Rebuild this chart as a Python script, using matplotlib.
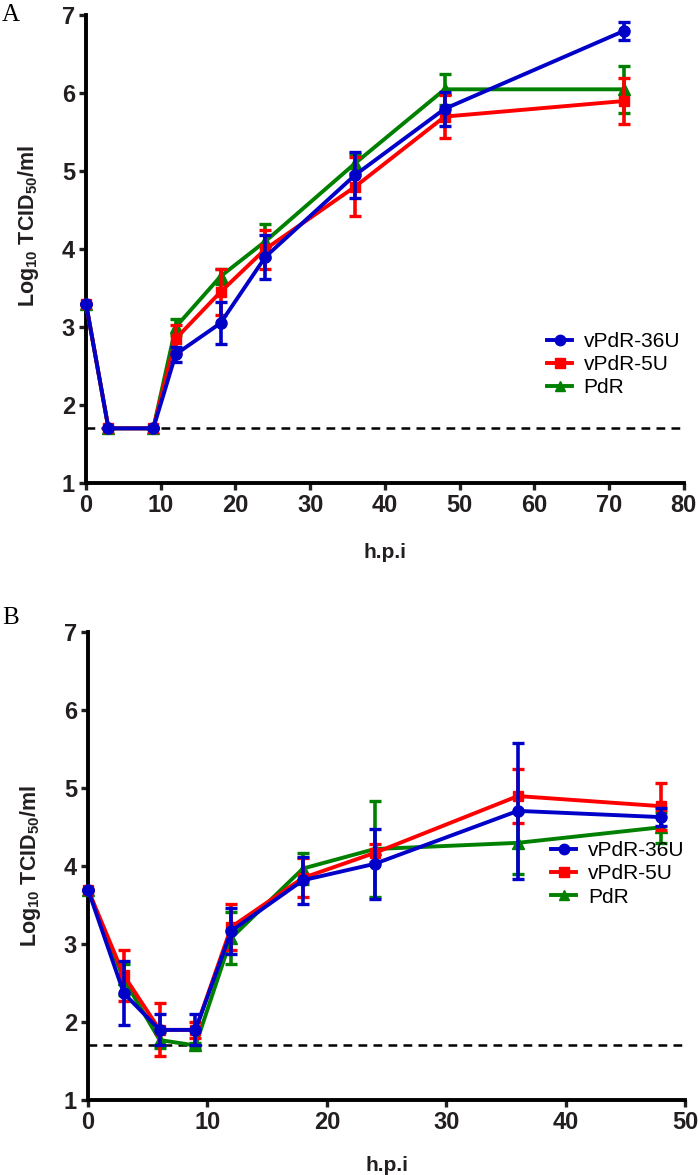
import matplotlib
matplotlib.use("Agg")
import matplotlib.pyplot as plt
from matplotlib.lines import Line2D

plt.rcParams['font.family'] = ['Liberation Sans', 'DejaVu Sans']
plt.rcParams['mathtext.fontset'] = 'custom'
plt.rcParams['mathtext.rm'] = 'Liberation Sans:bold'
plt.rcParams['mathtext.it'] = 'Liberation Sans:bold'
plt.rcParams['mathtext.bf'] = 'Liberation Sans:bold'

# ---------------- data ----------------
series_names = ["vPdR-36U", "vPdR-5U", "PdR"]

a_hpi = [0, 3, 9, 12, 18, 24, 36, 48, 72]
a_36u = [3.3, 1.7, 1.7, 2.65, 3.05, 3.9, 4.95, 5.8, 6.8]
a_36u_err = [0, 0, 0, 0.1, 0.27, 0.28, 0.29, 0.22, 0.12]
a_5u = [3.3, 1.7, 1.7, 2.85, 3.45, 4.0, 4.8, 5.7, 5.9]
a_5u_err = [0, 0, 0, 0.18, 0.3, 0.25, 0.38, 0.28, 0.29]
a_pdr = [3.3, 1.7, 1.7, 3.0, 3.65, 4.1, 5.1, 6.05, 6.05]
a_pdr_err = [0, 0, 0, 0.1, 0.1, 0.22, 0.12, 0.2, 0.3]

b_hpi = [0, 3, 6, 9, 12, 18, 24, 36, 48]
b_36u = [3.7, 2.37, 1.9, 1.9, 3.17, 3.82, 4.03, 4.71, 4.63]
b_36u_err = [0, 0.41, 0.2, 0.2, 0.3, 0.3, 0.45, 0.87, 0.12]
b_5u = [3.7, 2.6, 1.9, 1.9, 3.22, 3.85, 4.17, 4.9, 4.77]
b_5u_err = [0, 0.33, 0.34, 0.1, 0.3, 0.25, 0.12, 0.35, 0.3]
b_pdr = [3.7, 2.55, 1.77, 1.7, 3.08, 3.97, 4.22, 4.3, 4.5]
b_pdr_err = [0, 0.2, 0.1, 0.03, 0.33, 0.2, 0.62, 0.4, 0.2]

detection_limit = 1.7
y_ticks = [1, 2, 3, 4, 5, 6, 7]
a_xticks = [0, 10, 20, 30, 40, 50, 60, 70, 80]
b_xticks = [0, 10, 20, 30, 40, 50]

colors = ["#0000c8", "#ff0000", "#008000"]
markers = ["o", "s", "^"]
dark = "#231f20"

fig = plt.figure(figsize=(7.0, 11.75), dpi=100)


def panel(rect, x, ys, errs, xticks, xmax, letter, leg_anchor, ylab_y, letter_dy, xlpad):
    ax = fig.add_axes(rect)
    for i in [2, 1, 0]:
        ax.errorbar(x, ys[i], yerr=errs[i], color=colors[i], marker=markers[i],
                    markersize=8 if i != 1 else 7.5, lw=2.8, elinewidth=2.6,
                    capsize=4, capthick=2.4, clip_on=False, zorder=3 + (2 - i))
    ax.axhline(detection_limit, color="black", ls=(0, (3.5, 2.5)), lw=1.8, zorder=2)
    ax.set_xlim(0, xmax)
    ax.set_ylim(1, 7)
    ax.set_xticks(xticks)
    ax.set_yticks(y_ticks)
    for s in ["top", "right"]:
        ax.spines[s].set_visible(False)
    for s in ["left", "bottom"]:
        ax.spines[s].set_linewidth(2.8)
    ax.tick_params(width=2.4, length=5, labelsize=17, pad=3, colors=dark)
    for lab in ax.get_xticklabels() + ax.get_yticklabels():
        lab.set_fontweight("bold")
    ax.set_xlabel("h.p.i", fontsize=15, fontweight="bold", labelpad=xlpad, color=dark)
    ax.set_ylabel("Log$_{10}$ TCID$_{50}$/ml", fontsize=15.5, fontweight="bold",
                  color=dark)
    ax.yaxis.set_label_coords(-0.075, ylab_y)
    handles = [Line2D([], [], color=colors[i], marker=markers[i], lw=2.8, markersize=7.5)
               for i in range(3)]
    ax.legend(handles, series_names, loc="upper left", bbox_to_anchor=leg_anchor,
              bbox_transform=fig.transFigure, frameon=False, fontsize=15,
              handlelength=1.2, handletextpad=0.55, labelspacing=0.2)
    fig.text(0.003, rect[1] + rect[3] + letter_dy, letter, fontsize=18,
             family="Liberation Serif", va="center", ha="left")
    return ax


panel([0.1229, 0.589, 0.854, 0.398], a_hpi, [a_36u, a_5u, a_pdr],
      [a_36u_err, a_5u_err, a_pdr_err], a_xticks, 80, "A", (0.755, 0.7335), 0.55, 0.0, 19)
panel([0.1257, 0.0638, 0.853, 0.398], b_hpi, [b_36u, b_5u, b_pdr],
      [b_36u_err, b_5u_err, b_pdr_err], b_xticks, 50, "B", (0.761, 0.3), 0.5, 0.012, 16)

fig.savefig("out.png", dpi=100)
